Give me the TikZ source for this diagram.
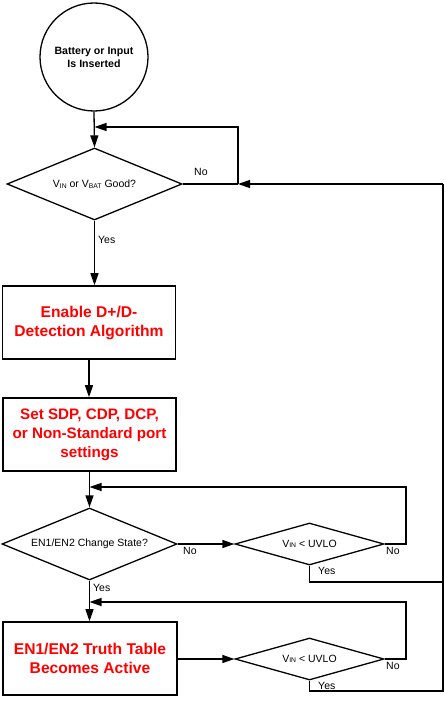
\documentclass[tikz,border=0pt]{standalone}
\usepackage{fontspec}
\setmainfont{Liberation Sans}
\usetikzlibrary{shapes.geometric,arrows.meta}
\definecolor{boxred}{RGB}{255,0,0}
\newcommand\lowsub[1]{\raisebox{-0.6pt}{\fontsize{6.8}{8}\selectfont #1}}
\tikzset{
  line/.style={line width=1.3pt},
  arr/.style={line width=1.3pt,-{Triangle[length=12pt,width=8pt]}},
  dec/.style={shape=diamond,draw,line width=1.3pt,aspect=2.5,inner sep=0pt,
     font=\fontsize{10.5}{12}\selectfont},
  bigdec/.style={dec,minimum width=175pt,minimum height=72pt},
  smalldec/.style={dec,minimum width=149pt,minimum height=42pt},
  stepbox/.style={draw,line width=1.6pt,minimum width=173pt,minimum height=73pt,
     align=center,text=boxred,font=\fontsize{15.6}{19}\selectfont\bfseries},
  lbl/.style={anchor=base west,inner sep=0pt,font=\fontsize{10.5}{12}\selectfont},
}
\begin{document}
\begin{tikzpicture}[x=1pt,y=-1pt]
\useasboundingbox (0,0) rectangle (444,701);
% nodes
\node[circle,draw,line width=1.3pt,minimum size=108pt,inner sep=0pt,align=center,
      font=\fontsize{10.6}{13}\selectfont\bfseries] (start) at (94,57)
      {Battery or Input\\Is Inserted};
\node[bigdec] (d1) at (94.5,184) {V\lowsub{IN} or V\lowsub{BAT} Good?};
\node[stepbox] (b1) at (89,322.5) {Enable D+/D-\\Detection Algorithm};
\node[stepbox,font=\fontsize{15.2}{19}\selectfont\bfseries] (b2) at (89.5,434.5) {Set SDP, CDP, DCP,\\or Non-Standard port\\settings};
\node[bigdec] (d2) at (89.5,544) {EN1/EN2 Change State?};
\node[smalldec] (s1) at (309.5,544) {V\lowsub{IN} {<} UVLO};
\node[stepbox,minimum width=174pt] (b3) at (90,658.5) {EN1/EN2 Truth Table\\Becomes Active};
\node[smalldec] (s2) at (309.5,659) {V\lowsub{IN} {<} UVLO};
% junction coordinates
\coordinate (j1) at (238,184);
\coordinate (t1) at (94.5,127);
\coordinate (r1) at (443,184);
\coordinate (r2) at (443,582);
\coordinate (r3) at (443,691);
\coordinate (k1) at (406,487);
\coordinate (t2) at (89.5,487);
\coordinate (k2) at (406,602);
\coordinate (t3) at (89.5,602);
% connectors
\draw[arr] (start.south) -- (d1.north);
\draw[line] (d1.east) -- (j1);
\draw[arr] (j1) |- (t1);
\draw[arr] (r1) -- (j1);
\draw[arr] (d1.south) -- (d1.south |- b1.north);
\draw[arr] (b1.south) -- (b1.south |- b2.north);
\draw[arr] (b2.south) -- (d2.north);
\draw[arr] (d2.east) -- (s1.west);
\draw[arr] (s1.east) -| (k1) -- (t2);
\draw[line] (s1.south) |- (r2);
\draw[arr] (d2.south) -- (d2.south |- b3.north);
\draw[arr] (b3.east |- s2.west) -- (s2.west);
\draw[arr] (s2.east) -| (k2) -- (t3);
\draw[line] (s2.south) |- (r3) -- (r1);
% labels
\node[lbl] (n1) at (194,175.5) {No};
\node[lbl] (y1) at (98,243) {Yes};
\node[lbl] (n2) at (183,554.5) {No};
\node[lbl] (y2) at (93,591) {Yes};
\node[lbl] (n3) at (386,554.5) {No};
\node[lbl] (y3) at (318,574.5) {Yes};
\node[lbl] (n4) at (386,669.5) {No};
\node[lbl] (y4) at (318,689) {Yes};
\end{tikzpicture}
\end{document}
